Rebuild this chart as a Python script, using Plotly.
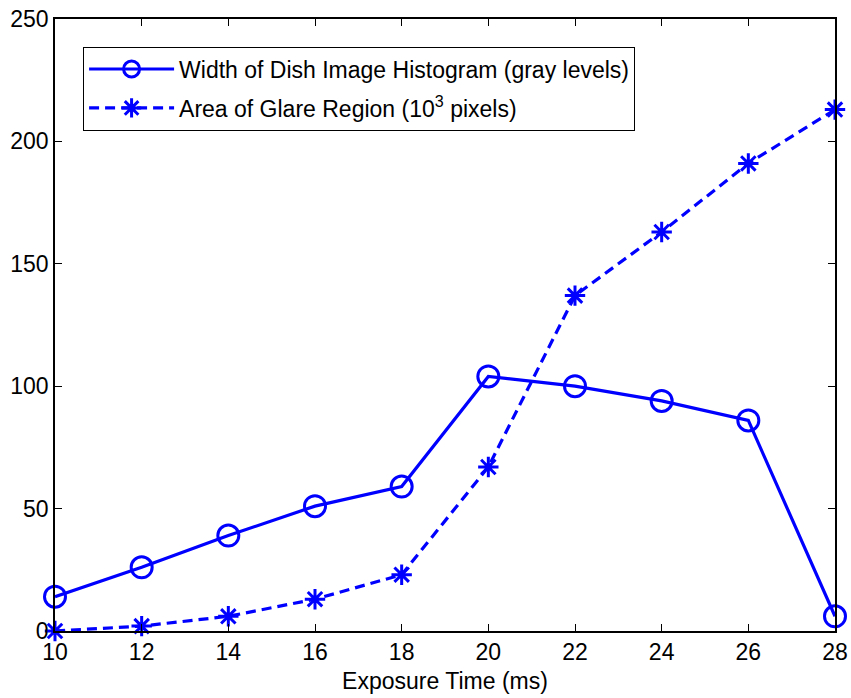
import plotly.graph_objects as go

exposure = [10, 12, 14, 16, 18, 20, 22, 24, 26, 28]
hist_width = [14, 26, 39, 51, 59, 104, 100, 94, 86, 6]
glare_area = [0, 2, 6, 13, 23, 67, 137, 163, 191, 213]
x_ticks = [10, 12, 14, 16, 18, 20, 22, 24, 26, 28]
y_ticks = [0, 50, 100, 150, 200, 250]

FONT = "Liberation Sans, Arial, sans-serif"
BLUE = "#0000FF"
FS = 23

fig = go.Figure()
fig.add_trace(go.Scatter(
    x=exposure, y=hist_width, mode="lines+markers",
    name="Width of Dish Image Histogram (gray levels)",
    legendgroup="a",
    line=dict(color=BLUE, width=3.2),
    marker=dict(symbol="circle-open", size=21, color=BLUE, line=dict(width=3, color=BLUE)),
    cliponaxis=False,
))
fig.add_trace(go.Scatter(
    x=exposure, y=glare_area, mode="lines+markers",
    name="Area of Glare Region (10<sup>3</sup> pixels)",
    legendgroup="b",
    line=dict(color=BLUE, width=3.2, dash="10px,6px"),
    marker=dict(symbol="asterisk-open", size=17, color=BLUE, line=dict(width=3, color=BLUE)),
    cliponaxis=False,
))

fig.update_layout(
    width=851, height=698,
    margin=dict(l=55, r=16, t=19, b=67),
    plot_bgcolor="white", paper_bgcolor="white",
    font=dict(family=FONT, size=FS, color="black"),
    showlegend=True,
    legend=dict(
        x=0.036, y=0.955, xanchor="left", yanchor="top",
        bordercolor="black", borderwidth=1, bgcolor="white",
        font=dict(family=FONT, size=FS, color="black"),
        itemwidth=85, tracegroupgap=6,
    ),
    xaxis=dict(
        range=[10, 28], tickvals=x_ticks, ticks="inside", ticklen=7,
        tickcolor="black", showline=True, linecolor="black", linewidth=1.5,
        mirror="ticks", showgrid=False, zeroline=False, automargin=False,
        title=dict(text="Exposure Time (ms)", standoff=9, font=dict(size=FS)),
        tickfont=dict(size=FS),
    ),
    yaxis=dict(
        range=[0, 250], tickvals=y_ticks, ticks="inside", ticklen=7,
        tickcolor="black", showline=True, linecolor="black", linewidth=1.5,
        mirror="ticks", showgrid=False, zeroline=False, automargin=False,
        tickfont=dict(size=FS),
    ),
)

fig.write_html("out.html")
